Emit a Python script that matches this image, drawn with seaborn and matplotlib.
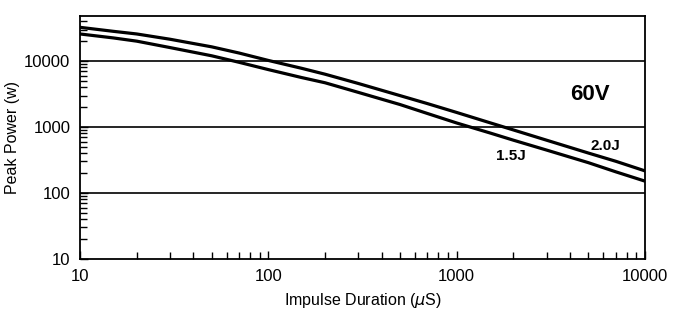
import numpy as np
import pandas as pd
import matplotlib
matplotlib.use("Agg")
import matplotlib.pyplot as plt
import seaborn as sns
from matplotlib.ticker import LogLocator, FixedLocator, NullFormatter

# impulse duration (uS) and peak power (W)
duration = [10, 15, 20, 30, 50, 70, 100, 150, 200, 300, 500, 700,
            1000, 1500, 2000, 3000, 5000, 7000, 10000]
power_2j = [32400, 28200, 25700, 21400, 16400, 13200, 10200, 7760, 6310, 4570,
            2990, 2260, 1660, 1160, 902, 631, 403, 302, 216]
power_15j = [25700, 22400, 20000, 16000, 12000, 9550, 7410, 5620, 4680, 3350,
             2190, 1600, 1150, 813, 631, 447, 288, 209, 151]

curve_labels = ["2.0J", "1.5J"]
y_ticks = [10, 100, 1000, 10000]
x_ticks = [10, 100, 1000, 10000]

df = pd.DataFrame({
    "duration": duration * 2,
    "power": power_2j + power_15j,
    "curve": [curve_labels[0]] * len(duration) + [curve_labels[1]] * len(duration),
})

sns.set_style("ticks", {"text.color": "black", "axes.labelcolor": "black",
                        "xtick.color": "black", "ytick.color": "black",
                        "axes.edgecolor": "black"})
plt.rcParams["font.family"] = ["Liberation Sans", "DejaVu Sans"]

fig = plt.figure(figsize=(6.88, 3.15), dpi=100)
ax = fig.add_axes([0.1163, 0.178, 0.8212, 0.771])

sns.lineplot(data=df, x="duration", y="power", hue="curve",
             palette=["black", "black"], linewidth=2.3, legend=False, ax=ax)

ax.set_xscale("log")
ax.set_yscale("log")
ax.set_xlim(10, 10000)
ax.set_ylim(10, 48000)

# horizontal rules at the decades
for yv in y_ticks[1:]:
    ax.axhline(yv, color="black", lw=1.2, zorder=1)

ax.xaxis.set_major_locator(FixedLocator(x_ticks))
ax.yaxis.set_major_locator(FixedLocator(y_ticks))
ax.set_xticklabels([str(v) for v in x_ticks])
ax.set_yticklabels([str(v) for v in y_ticks])
ax.xaxis.set_minor_locator(LogLocator(base=10, subs=np.arange(2, 10)))
ax.yaxis.set_minor_locator(LogLocator(base=10, subs=np.arange(2, 10)))
ax.xaxis.set_minor_formatter(NullFormatter())
ax.yaxis.set_minor_formatter(NullFormatter())

ax.tick_params(which="both", direction="in", color="black", width=1.0,
               labelsize=12, top=False, right=False)
ax.tick_params(which="major", length=6, pad=7)
ax.tick_params(which="minor", length=5)

for sp in ax.spines.values():
    sp.set_visible(True)
    sp.set_color("black")
    sp.set_linewidth(1.3)

ax.set_xlabel("Impulse Duration ($\\mu$S)", fontsize=11.5, labelpad=5)
ax.set_ylabel("Peak Power (w)", fontsize=11.5, labelpad=3)

ax.text(5130, 3160, "60V", fontsize=16, fontweight="bold", ha="center", va="center")
ax.text(1950, 363, "1.5J", fontsize=11, fontweight="bold", ha="center", va="center")
ax.text(6170, 516, "2.0J", fontsize=11, fontweight="bold", ha="center", va="center")

fig.savefig("out.png", dpi=100)
